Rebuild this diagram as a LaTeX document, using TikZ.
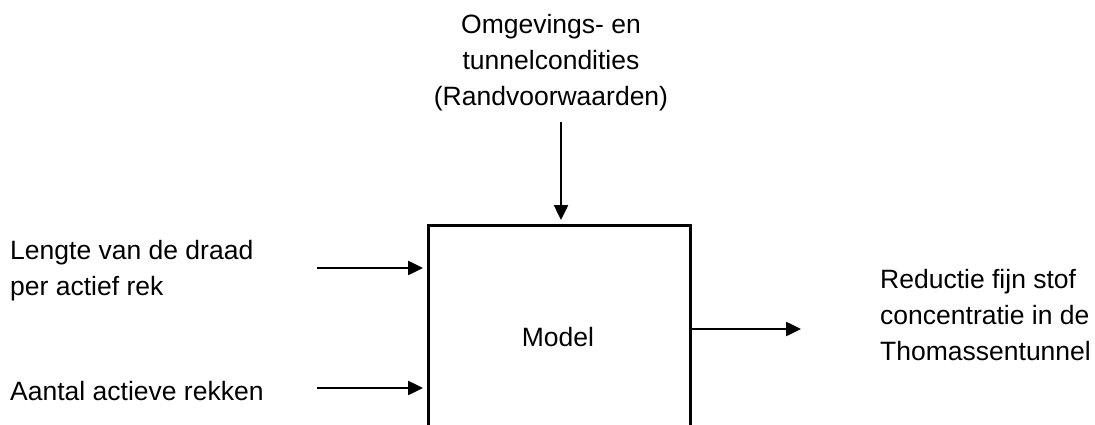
\documentclass[tikz,border=0pt]{standalone}
\usepackage{fontspec}
\setmainfont{Liberation Sans}
\usetikzlibrary{arrows.meta}
\begin{document}
\begin{tikzpicture}[x=1pt,y=-1pt,
  txt/.style={inner sep=0pt, font=\fontsize{26.5pt}{36pt}\selectfont},
  arr/.style={line width=2.5pt, -{Triangle[length=15pt,width=14pt]}},
  boxstyle/.style={draw, line width=2.5pt, minimum width=262pt, minimum height=300pt, inner sep=0pt, anchor=north west}]
\useasboundingbox (0,0) rectangle (1095,425);
% texts (base anchor = baseline of last line)
\node[txt, align=center, anchor=base] (top) at (551,106) {Omgevings- en\\tunnelcondities\\(Randvoorwaarden)};
\node[txt, align=left, anchor=base west] (in1) at (10,295) {Lengte van de draad\\per actief rek};
\node[txt, align=left, anchor=base west] (in2) at (10,400) {Aantal actieve rekken};
\node[txt, align=left, anchor=base west] (out) at (880,360) {Reductie fijn stof\\concentratie in de\\Thomassentunnel};
% box
\node[boxstyle] (box) at (427,224) {};
\node[txt, anchor=base] (modeltxt) at (558,346) {Model};
% connectors
\coordinate (t1) at (561,122);
\coordinate (l1) at (317,268);
\coordinate (l2) at (317,388);
\coordinate (r1) at (801,329);
\draw[arr, shorten >=4pt] (t1) -- (t1 |- box.north);
\draw[arr, shorten >=4pt] (l1) -- (l1 -| box.west);
\draw[arr, shorten >=4pt] (l2) -- (l2 -| box.west);
\draw[arr] (r1 -| box.east) -- (r1);
\end{tikzpicture}
\end{document}
